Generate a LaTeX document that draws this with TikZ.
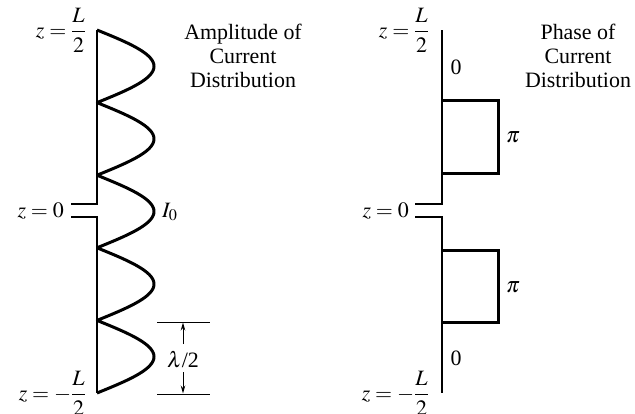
\documentclass[tikz,border=0pt]{standalone}
\usepackage{amsmath}
\usepackage{mathptmx}
\usepackage{fontspec}
\setmainfont{Liberation Serif}
\usetikzlibrary{arrows.meta}
\begin{document}
\begin{tikzpicture}[x=1bp,y=-1bp,
  lbl/.style={font=\fontsize{22}{24}\selectfont, inner sep=0pt},
  title/.style={lbl, align=center, anchor=north},
  lobe/.style={line width=3bp, line join=round},
  axisline/.style={line width=1.2bp},
  phasebox/.style={line width=3bp, line join=miter},
  dimline/.style={line width=0.9bp},
  dimarrow/.style={line width=0.9bp, -{Stealth[length=8bp,width=4.5bp]}}]
\useasboundingbox (0,0) rectangle (635,413);

% ---------- left: amplitude ----------
\draw[axisline] (97,30) -- (97,204) -- (71,204);
\draw[axisline] (71,217) -- (97,217) -- (97,393);
\draw[lobe] plot[variable=\t, domain=30:393, samples=500]
  ({97+57*abs(sin((\t-30)*2.47934))}, \t);

\node[lbl, anchor=east] (ltop) at (86,30) {$z=\dfrac{L}{2}$};
\node[lbl, anchor=east] (lmid) at (64,211.5) {$z=0$};
\node[lbl, anchor=east] (lbot) at (86,393) {$z=-\dfrac{L}{2}$};
\node[lbl, anchor=west] (io) at (162,212) {$I_0$};
\node[title] (ltitle) at (243,24) {Amplitude of\\Current\\Distribution};

% lambda/2 dimension
\coordinate (da1) at (157,322);
\coordinate (da2) at (210,322);
\coordinate (db1) at (157,394);
\coordinate (db2) at (210,394);
\coordinate (dtop) at (183,322.5);
\coordinate (dbot) at (183,393.5);
\coordinate (dtailu) at (183,344);
\coordinate (dtaild) at (183,372);
\draw[dimline] (da1) -- (da2);
\draw[dimline] (db1) -- (db2);
\node[lbl] (lam) at (183,360) {$\lambda$/2};
\draw[dimarrow] (dtailu) -- (dtop);
\draw[dimarrow] (dtaild) -- (dbot);

% ---------- right: phase ----------
\draw[axisline] (442,30) -- (442,204) -- (415,204);
\draw[axisline] (415,217) -- (442,217) -- (442,393);
\draw[phasebox] (442,100) -- (498,100) -- (498,173) -- (442,173);
\draw[phasebox] (442,250) -- (498,250) -- (498,322) -- (442,322);

\node[lbl, anchor=east] (rtop) at (429,30) {$z=\dfrac{L}{2}$};
\node[lbl, anchor=east] (rmid) at (409,211.5) {$z=0$};
\node[lbl, anchor=east] (rbot) at (429,393) {$z=-\dfrac{L}{2}$};
\node[lbl] (p0a) at (456,67) {0};
\node[lbl] (p0b) at (456,358) {0};
\node[lbl, anchor=west] (pia) at (506,137) {$\boldsymbol{\pi}$};
\node[lbl, anchor=west] (pib) at (506,287) {$\boldsymbol{\pi}$};
\node[title] (rtitle) at (578,24) {Phase of\\Current\\Distribution};
\end{tikzpicture}
\end{document}
